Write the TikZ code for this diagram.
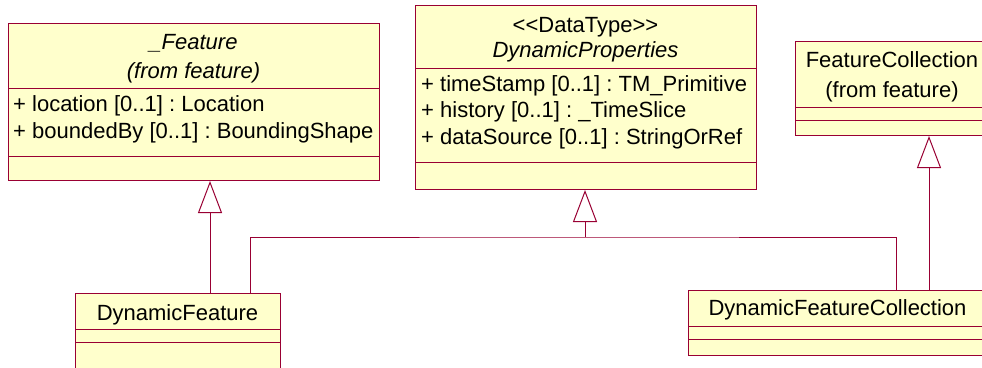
\documentclass[tikz,border=0pt]{standalone}
\usepackage{fontspec}
\setmainfont{Liberation Sans}
\usetikzlibrary{arrows.meta,calc}
\definecolor{umlline}{RGB}{153,0,51}
\definecolor{umlfill}{RGB}{255,255,204}
\frenchspacing
\begin{document}
\begin{tikzpicture}[x=1pt,y=-1pt,
  umlbox/.style={draw=umlline,fill=umlfill,line width=1pt,rectangle,inner sep=0pt,anchor=north west},
  comp/.style={draw=umlline,line width=1pt},
  txt/.style={font=\fontsize{22}{26}\selectfont,inner sep=0pt,text height=15.5pt,text depth=0pt,text=black},
  itxt/.style={txt,font=\fontsize{22}{26}\selectfont\itshape},
  attr/.style={txt,anchor=west},
  conn/.style={draw=umlline,line width=1pt},
  gen/.style={conn,-{Triangle[length=32pt,width=24pt,fill=white,line width=1pt]}}]
\useasboundingbox (0,0) rectangle (982,367);
\clip (0,0) rectangle (982,367);

% _Feature
\node[umlbox,minimum width=371pt,minimum height=157pt] (feat) at (8,23) {};
\draw[comp] (8,88) -- (379,88);
\draw[comp] (8,156) -- (379,156);
\node[itxt] (featname) at (193.5,42) {\_Feature};
\node[itxt] (featfrom) at (193.5,71) {(from feature)};
\node[attr] (fa1) at (13,104) {+ location [0..1] : Location};
\node[attr] (fa2) at (13,131) {+ boundedBy [0..1] : BoundingShape};

% DynamicProperties
\node[umlbox,minimum width=341pt,minimum height=184pt] (dp) at (415,5) {};
\draw[comp] (415,68) -- (756,68);
\draw[comp] (415,162) -- (756,162);
\node[txt] (dpst) at (585.5,25) {<{}<DataType>{}>};
\node[itxt] (dpname) at (585.5,50) {DynamicProperties};
\node[attr] (da1) at (421,84) {+ timeStamp [0..1] : TM\_Primitive};
\node[attr] (da2) at (421,110) {+ history [0..1] : \_TimeSlice};
\node[attr] (da3) at (421,137) {+ dataSource [0..1] : StringOrRef};

% FeatureCollection
\node[umlbox,minimum width=194pt,minimum height=94pt] (fc) at (795,41) {};
\draw[comp] (795,107) -- (989,107);
\draw[comp] (795,120) -- (989,120);
\node[txt] (fcname) at (892,60) {FeatureCollection};
\node[txt] (fcfrom) at (892,90) {(from feature)};

% DynamicFeature
\node[umlbox,minimum width=205pt,minimum height=82pt] (df) at (75,293) {};
\draw[comp] (75,329) -- (280,329);
\draw[comp] (75,342) -- (280,342);
\node[txt] (dfname) at (177.5,313) {DynamicFeature};

% DynamicFeatureCollection
\node[umlbox,minimum width=300pt,minimum height=65pt] (dfc) at (688,290) {};
\draw[comp] (688,326) -- (988,326);
\draw[comp] (688,339) -- (988,339);
\node[txt] (dfcname) at (837.5,308) {DynamicFeatureCollection};

% connectors
\coordinate (join) at (585,237);
\draw[gen] ($(df.north west)+(135,0)$) -- ($(feat.south west)+(202,0)$);
\draw[conn] ($(df.north west)+(175,0)$) |- (join) -| ($(dfc.north west)+(208,0)$);
\draw[gen] (join) -- (join |- dp.south);
\draw[gen] ($(dfc.north west)+(241,0)$) -- ($(fc.south west)+(134,0)$);
\end{tikzpicture}
\end{document}
